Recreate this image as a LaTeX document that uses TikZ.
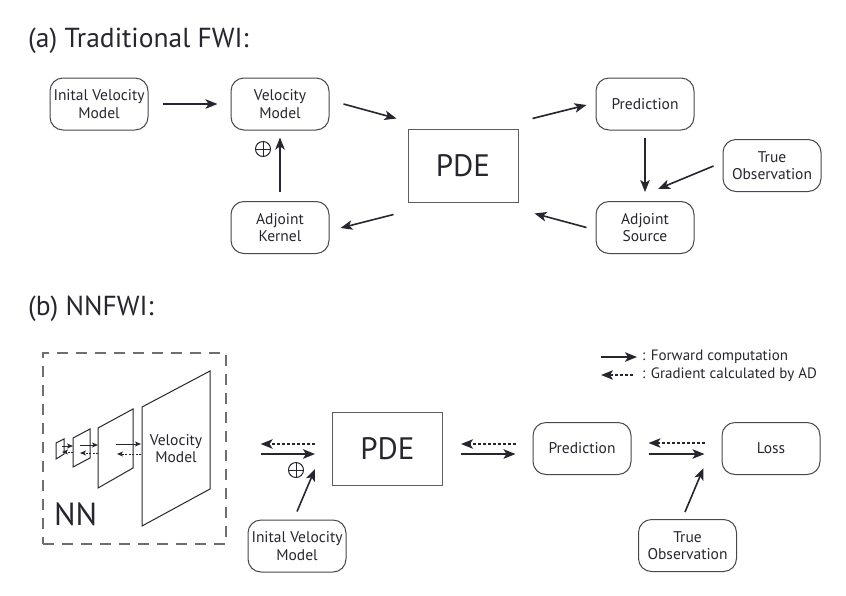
\documentclass[tikz,border=0pt]{standalone}
\usepackage{fontspec}
\setmainfont{PT Sans}
\usetikzlibrary{arrows.meta}
\definecolor{ink}{RGB}{38,38,46}
\definecolor{dashgray}{RGB}{110,110,115}
\begin{document}
\begin{tikzpicture}[x=1pt,y=-1pt,
  rbox/.style={draw=ink!85, line width=1pt, rounded corners=13pt, minimum width=98pt, minimum height=52pt, align=center, font=\fontsize{15.5}{17.5}\selectfont, text=ink, inner sep=0pt},
  pdebox/.style={draw=ink!75, line width=1pt, minimum width=110pt, minimum height=73pt, font=\fontsize{31}{32}\selectfont, text=ink, inner sep=0pt},
  arr/.style={-{Stealth[length=12pt,width=9.5pt,inset=3pt]}, line width=1.6pt, draw=ink},
  darr/.style={-{Stealth[length=12pt,width=9.5pt,inset=3pt]}, line width=1.3pt, draw=ink, dash pattern=on 3pt off 2pt},
  sarr/.style={-{Stealth[length=6pt,width=5pt,inset=1.5pt]}, line width=1pt, draw=ink},
  sdarr/.style={-{Stealth[length=6pt,width=5pt,inset=1.5pt]}, line width=0.9pt, draw=ink, dash pattern=on 2pt off 1.5pt},
  plane/.style={draw=ink, line width=1pt},
  plus/.style={circle, draw=ink, line width=1pt, minimum size=15pt, inner sep=0pt},
  plusbar/.style={draw=ink, line width=1pt},
  title/.style={anchor=base west, font=\fontsize{27.5}{29}\selectfont, text=ink, inner sep=0pt},
  legend/.style={anchor=west, font=\fontsize{15}{17}\selectfont, text=ink, inner sep=0pt}
]
\useasboundingbox (0,0) rectangle (846,595);
% ---------------- (a) ----------------
\node[title] (ta) at (28,47) {(a) Traditional FWI:};
\node[rbox] (init) at (99,104) {Inital Velocity\\Model};
\node[rbox] (vel) at (280,104) {Velocity\\Model};
\node[pdebox] (pde) at (463,165.5) {PDE};
\node[rbox] (pred) at (645,104) {Prediction};
\node[rbox] (trueo) at (772,165.5) {True\\Observation};
\node[rbox] (adjs) at (645,227.5) {Adjoint\\Source};
\node[rbox] (adjk) at (280,227.5) {Adjoint\\Kernel};
\node[plus] (pa) at (263,149) {};
\draw[plusbar] (pa.north) -- (pa.south) (pa.west) -- (pa.east);

\draw[arr] ([shift={(14,0)}]init.east) -- ([shift={(-13,0)}]vel.west);
\draw[arr] ([shift={(14,0)}]vel.east) -- ([shift={(-11,-10)}]pde.north west);
\draw[arr] ([shift={(14,-10)}]pde.north east) -- ([shift={(-9,1)}]pred.west);
\draw[arr] ([shift={(0,7)}]pred.south) -- ([shift={(0,-9)}]adjs.north);
\draw[arr] ([shift={(-9,0.5)}]trueo.west) -- ([shift={(13,-12)}]adjs.north);
\draw[arr] ([shift={(-9,0)}]adjs.west) -- ([shift={(16,11)}]pde.south east);
\draw[arr] ([shift={(-14,12)}]pde.south west) -- ([shift={(11,0.5)}]adjk.east);
\draw[arr] ([shift={(0,-9)}]adjk.north) -- ([shift={(0,7)}]vel.south);

% ---------------- (b) ----------------
\node[title] (tb) at (28,315) {(b) NNFWI:};
\node[draw=dashgray, line width=1.3pt, dash pattern=on 11pt off 8pt, minimum width=183pt, minimum height=191pt, inner sep=0pt] (nnbox) at (134.5,448.5) {};
\node[anchor=base west, font=\fontsize{32}{32}\selectfont, text=ink, inner sep=0pt] (nn) at (54,525) {NN};
% planes
\draw[plane] (56,443) -- (64,439) -- (64,454) -- (56,459) -- cycle;
\draw[plane] (73,438) -- (90,429) -- (90,458) -- (73,467) -- cycle;
\draw[plane] (98,428) -- (133,409) -- (133,468) -- (98,488) -- cycle;
\draw[plane] (142,407) -- (210,371) -- (210,489) -- (142,526) -- cycle;
\node[align=center, font=\fontsize{15.5}{17.5}\selectfont, text=ink, inner sep=0pt] (velnn) at (176,448.5) {Velocity\\Model};
\coordinate (c1a) at (62,446); \coordinate (c1b) at (73,446);
\coordinate (c1c) at (73,452); \coordinate (c1d) at (62,452);
\coordinate (c2a) at (80,445); \coordinate (c2b) at (98,445);
\coordinate (c2c) at (98,453); \coordinate (c2d) at (80,453);
\coordinate (c3a) at (116,444); \coordinate (c3b) at (141,444);
\coordinate (c3c) at (141,454); \coordinate (c3d) at (117,454);
\draw[sarr] (c1a) -- (c1b); \draw[sdarr] (c1c) -- (c1d);
\draw[sarr] (c2a) -- (c2b); \draw[sdarr] (c2c) -- (c2d);
\draw[sarr] (c3a) -- (c3b); \draw[sdarr] (c3c) -- (c3d);

\node[pdebox] (pde2) at (387.5,448.5) {PDE};
\node[rbox] (pred2) at (582,448.5) {Prediction};
\node[rbox] (loss) at (771,448.5) {Loss};
\node[rbox] (init2) at (297,546) {Inital Velocity\\Model};
\node[rbox] (true2) at (687.5,545.5) {True\\Observation};
\node[plus] (pb) at (296,470) {};
\draw[plusbar] (pb.north) -- (pb.south) (pb.west) -- (pb.east);

\draw[arr] ([shift={(34,5.5)}]nnbox.east) -- ([shift={(-17,5.5)}]pde2.west);
\draw[darr] ([shift={(-17,-4.5)}]pde2.west) -- ([shift={(34,-4.5)}]nnbox.east);
\draw[arr] ([shift={(18,5.5)}]pde2.east) -- ([shift={(-17,5.5)}]pred2.west);
\draw[darr] ([shift={(-17,-4.5)}]pred2.west) -- ([shift={(18,-4.5)}]pde2.east);
\draw[arr] ([shift={(17,5.5)}]pred2.east) -- ([shift={(-17,5.5)}]loss.west);
\draw[darr] ([shift={(-17,-5.5)}]loss.west) -- ([shift={(17,-5.5)}]pred2.east);
\draw[arr] ([shift={(0,-8)}]init2.north) -- ([shift={(-17,20.5)}]pde2.west);
\draw[arr] ([shift={(-2.5,-7)}]true2.north) -- ([shift={(-18,19.5)}]loss.west);

% legend
\coordinate (lf1) at (601,357); \coordinate (lf2) at (637,357);
\coordinate (lg1) at (633,375); \coordinate (lg2) at (601,375);
\draw[arr] (lf1) -- (lf2);
\draw[darr] (lg1) -- (lg2);
\node[legend] (lft) at (642,357) {: Forward computation};
\node[legend] (lgt) at (642,375) {: Gradient calculated by AD};
\end{tikzpicture}
\end{document}
